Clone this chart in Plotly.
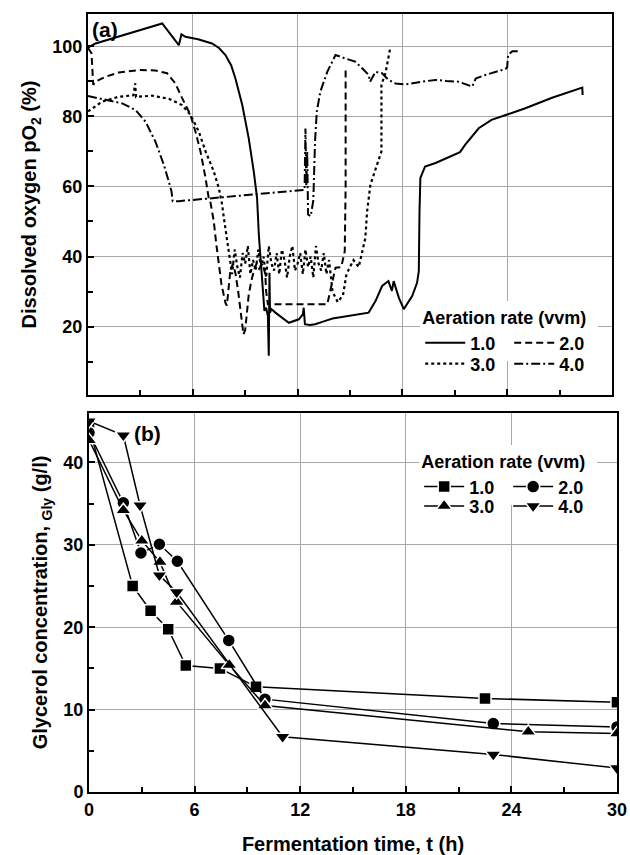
import plotly.graph_objects as go

# ---------------- Panel (a): dissolved oxygen pO2 (%) vs time (h) ----------------
DO_T_10 = [0, 0.43, 4.25, 5.16, 5.2, 5.35, 5.58, 6.3, 7.1, 7.5,
           7.87, 8.2, 8.44, 8.83, 9.2, 9.49, 9.68, 9.78, 9.97, 10.1,
           10.2, 10.3, 10.35, 10.39, 10.42, 10.5, 10.73, 11.1, 11.5, 12.07,
           12.3, 12.35, 12.42, 12.7, 13.0, 13.5, 14.0, 14.36, 15.0, 15.5,
           16.07, 16.46, 16.84, 17.2, 17.4, 17.5, 17.8, 18.08, 18.56, 18.84,
           18.94, 18.98, 19.03, 19.3, 19.9, 21.3, 21.6, 22.37, 23.1, 24.05,
           25.04, 26.57, 28.3, 28.32]
DO_10 = [99.6, 100.8, 106.5, 100.3, 100.3, 103.4, 102.7, 102, 100.8, 99.5,
         97.5, 94.5, 90.8, 83.3, 73.8, 64.3, 56.7, 46.3, 32.1, 24.5,
         25.4, 23, 11.7, 35.4, 24, 25, 24, 22.5, 21.1, 22.1,
         23.5, 25.4, 20.7, 20.5, 20.7, 21.5, 22.3, 22.6, 23.2, 23.5,
         24, 27.3, 31.6, 33, 30.2, 33, 28.2, 25, 28.7, 32.5,
         35.8, 52.9, 62.4, 65.7, 66.7, 69.8, 71.9, 76.6, 79, 80.6,
         82.3, 85.3, 88.2, 86.1]

DO_T_20 = [0, 0.2, 0.3, 0.43, 1.0, 1.76, 2.9, 3.86, 4.53, 5.0,
           5.39, 5.87, 6.15, 6.44, 6.73, 6.91, 7.0, 7.2, 7.35, 7.5,
           7.64, 7.87, 7.95, 8.05, 8.15, 8.3, 8.45, 8.6, 8.75, 8.9,
           9.0, 9.1, 9.2, 9.35, 9.5, 9.65, 9.8, 10.0, 10.15, 10.2,
           10.3, 13.7, 13.9, 14.17, 14.5, 14.7, 14.75, 14.75]
DO_20 = [99.5, 98, 89, 89.9, 91.3, 92.5, 93.2, 93.1, 92.3, 89.4,
         85.2, 80.4, 75.7, 70, 62.4, 56.7, 55.8, 50.1, 43.4, 36.8,
         32.1, 26.8, 26, 31, 36, 38, 35, 30, 24, 17.8,
         19, 24, 29, 33, 36, 38, 36.5, 38, 35, 30,
         26.4, 26.4, 31, 36.8, 37, 41.5, 60, 94]

DO_T_30 = [0, 0.81, 1.76, 2.6, 2.7, 2.75, 2.9, 3.67, 4.63, 5.39,
           5.87, 6.34, 6.73, 7.2, 7.49, 7.68, 7.78, 7.97,
           8.1, 8.25, 8.4, 8.55, 8.7, 8.85, 9.0, 9.15, 9.3, 9.45,
           9.6, 9.75, 9.9, 10.05, 10.2, 10.35, 10.5, 10.65, 10.8, 10.95,
           11.1, 11.25, 11.4, 11.55, 11.7, 11.85, 12.0, 12.15, 12.3, 12.45,
           12.6, 12.75, 12.9, 13.05, 13.2, 13.35, 13.5, 13.65, 13.8,
           14.0, 14.3, 14.6, 14.8, 15.2, 15.5, 15.7, 15.88, 15.98, 16.17,
           16.55, 16.8, 16.8, 17.03, 17.3]
DO_30 = [81.4, 84.2, 85.6, 86, 89.4, 85.5, 85.6, 85.9, 85, 83.2,
         80.4, 75.7, 70, 64.3, 59.5, 54.8, 51, 44.4,
         40, 35, 42, 37, 34, 41, 38, 43, 35, 39,
         36, 42, 37, 40, 34, 43, 38, 36, 41, 35,
         42, 39, 34, 40, 43, 36, 38, 41, 35, 42,
         37, 40, 34, 43, 38, 36, 41, 35, 39,
         30, 27, 29, 35, 39, 37, 41, 45.3, 52.9, 60.5,
         66.2, 70, 89, 92.3, 99.4]

DO_T_40 = [0, 1.0, 1.96, 2.72, 3.29, 3.86, 4.34, 4.62, 4.78, 4.85,
           5.2, 12.4, 12.45, 12.5, 12.55, 12.6, 12.75, 12.9, 13.0, 13.1,
           13.3, 13.7, 14.17, 14.74, 15.3, 15.7, 16.07, 16.15, 16.46, 16.84,
           17.2, 17.6, 18.17, 19.13, 19.9, 20.5, 21.2, 22.0, 22.2, 22.75,
           23.9, 24.0, 24.05, 24.3, 24.76]
DO_40 = [85.8, 84.7, 83.7, 81.8, 78.5, 72.8, 66.2, 61.5, 58.6, 55.8,
         55.8, 59, 76.5, 60, 70, 52, 51.5, 56, 73, 81.4,
         87, 92.7, 97.5, 96.5, 95.6, 93.7, 91.8, 89.9, 92.7, 92.3,
         90.4, 89.4, 89.1, 89.9, 90.4, 90.1, 89.9, 88.5, 90.8, 91.8,
         93.5, 94, 97.5, 98.6, 98.6]

# ---------------- Panel (b): glycerol concentration (g/l) vs time (h) ----------------
GLY_T_10 = [0, 2.48, 3.5, 4.5, 5.5, 7.44, 9.49, 22.5, 30]
GLY_10 = [44.3, 25.0, 22.0, 19.75, 15.35, 15.0, 12.77, 11.35, 10.9]
GLY_T_20 = [0, 1.95, 2.95, 4.0, 5.02, 7.94, 10.0, 22.97, 30]
GLY_20 = [43.6, 35.1, 29.0, 30.06, 28.0, 18.4, 11.27, 8.3, 7.9]
GLY_T_30 = [0, 1.95, 3.0, 4.03, 4.98, 7.97, 10.0, 24.96, 30]
GLY_30 = [42.7, 34.2, 30.5, 27.9, 23.07, 15.4, 10.5, 7.3, 7.1]
GLY_T_40 = [0, 1.95, 2.9, 4.0, 4.98, 11.0, 22.97, 30]
GLY_40 = [45.0, 43.3, 34.8, 26.3, 24.26, 6.7, 4.55, 2.9]

RATES = ["1.0", "2.0", "3.0", "4.0"]
X_TICKS = [0, 6, 12, 18, 24, 30]

FONT = "Liberation Sans, Arial, sans-serif"
BOLD = dict(family=FONT, size=18, color="black", weight="bold")
TITLE_FONT = dict(family=FONT, size=20, color="black", weight="bold")
GRID = "#a8a8a8"

fig = go.Figure()

do_series = [(DO_T_10, DO_10, "solid"), (DO_T_20, DO_20, "7px,4px"),
             (DO_T_30, DO_30, "dot"), (DO_T_40, DO_40, "9px,3px,2px,3px")]
for i, (t, v, dash) in enumerate(do_series):
    fig.add_trace(go.Scatter(
        x=t, y=v, mode="lines", name=RATES[i],
        line=dict(color="black", width=2 if dash != "dot" else 2.2, dash=dash),
        xaxis="x", yaxis="y",
        legend="legend" if i < 2 else "legend2",
        showlegend=True))

gly_series = [(GLY_T_10, GLY_10, "square", 12), (GLY_T_20, GLY_20, "circle", 13),
              (GLY_T_30, GLY_30, "triangle-up", 14), (GLY_T_40, GLY_40, "triangle-down", 14)]
for i, (t, v, sym, sz) in enumerate(gly_series):
    fig.add_trace(go.Scatter(
        x=t, y=v, mode="lines+markers", name=RATES[i],
        line=dict(color="black", width=1.5),
        marker=dict(symbol=sym, size=sz, color="black",
                    line=dict(color="white", width=1.5)),
        xaxis="x2", yaxis="y2",
        legend="legend3" if i < 2 else "legend4",
        showlegend=True))

axis_common = dict(showline=True, linecolor="black", linewidth=2, mirror=True,
                   showgrid=True, gridcolor=GRID, gridwidth=1, zeroline=False,
                   ticks="inside", ticklen=6, tickwidth=1.5, tickcolor="black",
                   tickfont=BOLD)

leg_common = dict(orientation="h", borderwidth=0,
                  font=BOLD, xanchor="left", yanchor="top",
                  entrywidth=34, entrywidthmode="pixels",
                  tracegroupgap=0, itemwidth=40)

fig.update_layout(
    width=630, height=855,
    margin=dict(l=88, r=13, t=12, b=63),
    paper_bgcolor="white", plot_bgcolor="white",
    font=BOLD,
    xaxis=dict(domain=[0, 0.9905], range=[0, 30], anchor="y",
               tickvals=X_TICKS, showticklabels=False,
               minor=dict(dtick=3, tick0=0, ticks="inside", ticklen=5,
                          tickcolor="black", showgrid=False),
               **axis_common),
    yaxis=dict(domain=[0.5103, 1], range=[0.5, 109.2], anchor="x",
               tickvals=[0, 20, 40, 60, 80, 100],
               minor=dict(dtick=10, tick0=0, ticks="inside", ticklen=5,
                          tickcolor="black", showgrid=False),
               title=dict(text="Dissolved oxygen pO<sub>2</sub> (%)",
                          font=TITLE_FONT, standoff=10),
               automargin=False,
               **axis_common),
    xaxis2=dict(domain=[0.0019, 1], range=[0, 30], anchor="y2",
                tickvals=X_TICKS,
                minor=dict(dtick=3, tick0=0, ticks="inside", ticklen=5,
                           tickcolor="black", showgrid=False),
                title=dict(text="Fermentation time, t (h)",
                           font=TITLE_FONT, standoff=19),
                automargin=False,
                **axis_common),
    yaxis2=dict(domain=[0, 0.4872], range=[0, 46], anchor="x2",
                tickvals=[0, 10, 20, 30, 40],
                minor=dict(dtick=5, tick0=0, ticks="inside", ticklen=5,
                           tickcolor="black", showgrid=False),
                title=dict(text="Glycerol concentration, <sub>Gly</sub> (g/l)",
                           font=TITLE_FONT, standoff=10),
                automargin=False,
                **axis_common),
    legend=dict(x=0.628, y=0.631, bgcolor="white",
                title=dict(text="Aeration rate (vvm)", side="top", font=BOLD),
                **leg_common),
    legend2=dict(x=0.628, y=0.574, bgcolor="rgba(0,0,0,0)", **leg_common),
    legend3=dict(x=0.626, y=0.446, bgcolor="white",
                 title=dict(text="Aeration rate (vvm)", side="top", font=BOLD),
                 **leg_common),
    legend4=dict(x=0.626, y=0.391, bgcolor="rgba(0,0,0,0)", **leg_common),
    annotations=[
        dict(text="(a)", xref="paper", yref="paper", x=0.003, y=0.998,
             xanchor="left", yanchor="top", showarrow=False,
             font=dict(family=FONT, size=21, color="black", weight="bold")),
        dict(text="(b)", xref="x2", yref="y2", x=2.45, y=43.5,
             xanchor="left", yanchor="middle", showarrow=False,
             font=dict(family=FONT, size=21, color="black", weight="bold")),
    ],
)

fig.write_html("out.html")
